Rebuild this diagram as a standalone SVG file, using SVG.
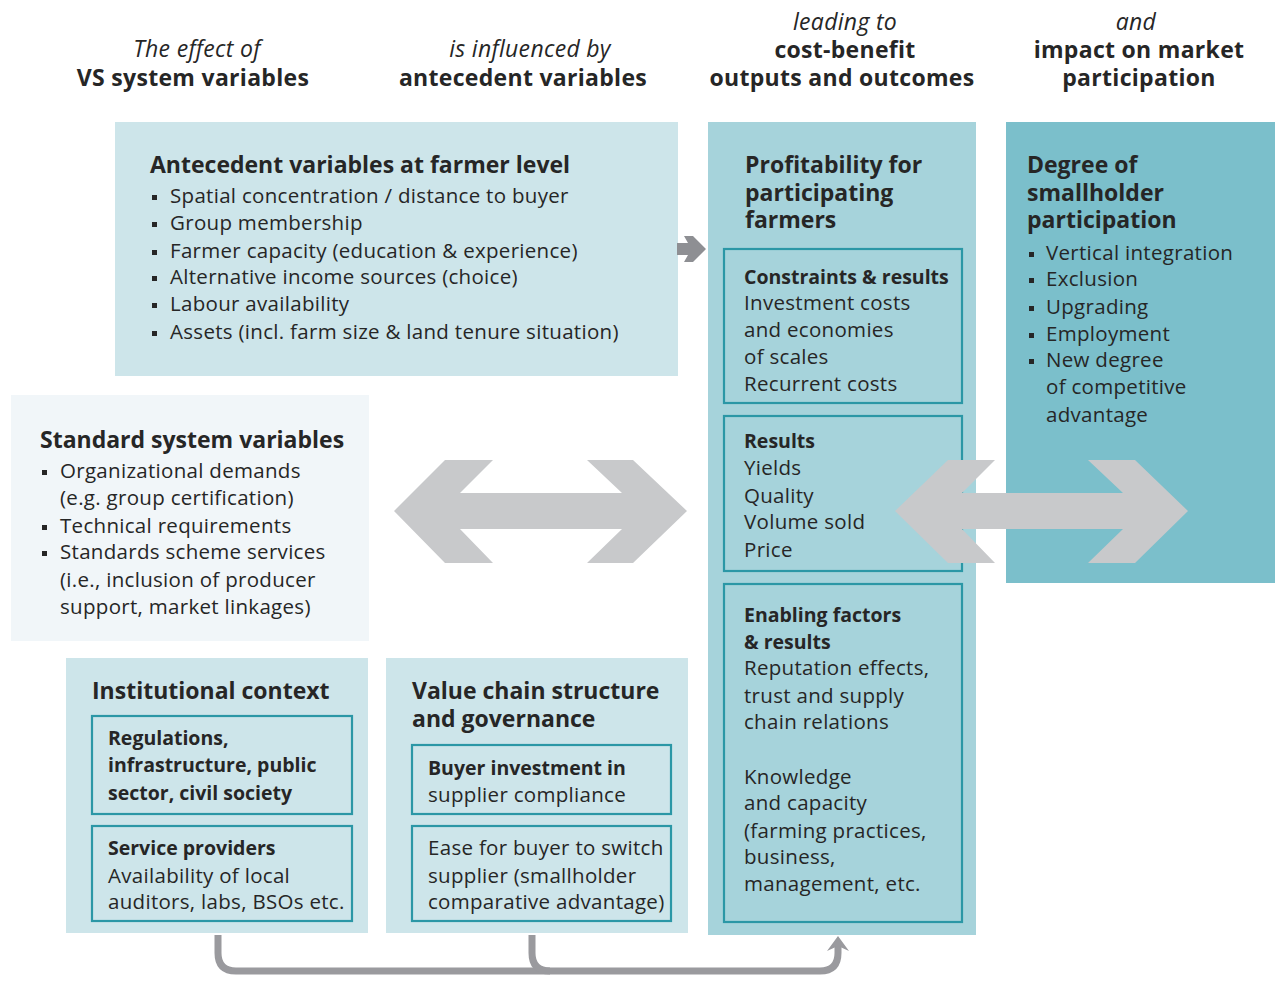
<svg xmlns="http://www.w3.org/2000/svg" width="1280" height="981" viewBox="0 0 1280 981">
<style>
text{font-family:"Open Sans","Noto Sans","Liberation Sans",sans-serif;fill:#262626;}
.h{font-size:23px;font-weight:bold;letter-spacing:0.3px;}
.hi{font-size:23px;font-style:italic;letter-spacing:0.3px;}
.t{font-size:23px;font-weight:bold;}
.b{font-size:19.5px;font-weight:bold;}
.r{font-size:20.5px;letter-spacing:0.3px;}
.c{text-anchor:middle;}
.inner{fill:none;stroke:#2b97a6;stroke-width:2.2;}
.bul{fill:#262626;}
.big{fill:#c8c9cb;}
</style>
<rect width="1280" height="981" fill="#ffffff"/>

<g id="headers">
<text class="hi c" x="197" y="57">The effect of</text>
<text class="h c" x="193" y="86">VS system variables</text>
<text class="hi c" x="530" y="57">is influenced by</text>
<text class="h c" x="523" y="86">antecedent variables</text>
<text class="hi c" x="845" y="30">leading to</text>
<text class="h c" x="845" y="58">cost-benefit</text>
<text class="h c" x="842" y="86">outputs and outcomes</text>
<text class="hi c" x="1136" y="30">and</text>
<text class="h c" x="1139" y="58">impact on market</text>
<text class="h c" x="1139" y="86">participation</text>
</g>

<g id="antecedent">
<rect x="115" y="122" width="563" height="254" fill="#cde5ea"/>
<text class="t" x="150" y="173">Antecedent variables at farmer level</text>
<rect class="bul" x="152" y="195" width="5" height="5"/>
<rect class="bul" x="152" y="222" width="5" height="5"/>
<rect class="bul" x="152" y="250" width="5" height="5"/>
<rect class="bul" x="152" y="276" width="5" height="5"/>
<rect class="bul" x="152" y="303" width="5" height="5"/>
<rect class="bul" x="152" y="331" width="5" height="5"/>
<text class="r" x="170" y="203">Spatial concentration / distance to buyer</text>
<text class="r" x="170" y="230">Group membership</text>
<text class="r" x="170" y="258">Farmer capacity (education &amp; experience)</text>
<text class="r" x="170" y="284">Alternative income sources (choice)</text>
<text class="r" x="170" y="311">Labour availability</text>
<text class="r" x="170" y="339">Assets (incl. farm size &amp; land tenure situation)</text>
</g>

<g id="profitability">
<rect x="708" y="122" width="268" height="813" fill="#a6d3db"/>
<text class="t" x="745" y="173">Profitability for</text>
<text class="t" x="745" y="201">participating</text>
<text class="t" x="745" y="228">farmers</text>
<rect class="inner" x="724" y="249" width="238" height="154"/>
<text class="b" x="744" y="284">Constraints &amp; results</text>
<text class="r" x="744" y="310">Investment costs</text>
<text class="r" x="744" y="337">and economies</text>
<text class="r" x="744" y="364">of scales</text>
<text class="r" x="744" y="391">Recurrent costs</text>
<rect class="inner" x="724" y="416" width="238" height="155"/>
<text class="b" x="744" y="448">Results</text>
<text class="r" x="744" y="475">Yields</text>
<text class="r" x="744" y="503">Quality</text>
<text class="r" x="744" y="529">Volume sold</text>
<text class="r" x="744" y="557">Price</text>
<rect class="inner" x="724" y="584" width="238" height="338"/>
<text class="b" x="744" y="622">Enabling factors</text>
<text class="b" x="744" y="649">&amp; results</text>
<text class="r" x="744" y="675">Reputation effects,</text>
<text class="r" x="744" y="703">trust and supply</text>
<text class="r" x="744" y="729">chain relations</text>
<text class="r" x="744" y="784">Knowledge</text>
<text class="r" x="744" y="810">and capacity</text>
<text class="r" x="744" y="838">(farming practices,</text>
<text class="r" x="744" y="864">business,</text>
<text class="r" x="744" y="891">management, etc.</text>
</g>

<g id="degree">
<rect x="1006" y="122" width="269" height="461" fill="#7bbfcb"/>
<text class="t" x="1027" y="173">Degree of</text>
<text class="t" x="1027" y="201">smallholder</text>
<text class="t" x="1027" y="228">participation</text>
<rect class="bul" x="1029" y="252" width="5" height="5"/>
<rect class="bul" x="1029" y="278" width="5" height="5"/>
<rect class="bul" x="1029" y="306" width="5" height="5"/>
<rect class="bul" x="1029" y="333" width="5" height="5"/>
<rect class="bul" x="1029" y="359" width="5" height="5"/>
<text class="r" x="1046" y="260">Vertical integration</text>
<text class="r" x="1046" y="286">Exclusion</text>
<text class="r" x="1046" y="314">Upgrading</text>
<text class="r" x="1046" y="341">Employment</text>
<text class="r" x="1046" y="367">New degree</text>
<text class="r" x="1046" y="394">of competitive</text>
<text class="r" x="1046" y="422">advantage</text>
</g>

<g id="standard">
<rect x="11" y="395" width="358" height="246" fill="#f1f6f9"/>
<text class="t" x="40" y="448">Standard system variables</text>
<rect class="bul" x="42" y="470" width="5" height="5"/>
<rect class="bul" x="42" y="525" width="5" height="5"/>
<rect class="bul" x="42" y="551" width="5" height="5"/>
<text class="r" x="60" y="478">Organizational demands</text>
<text class="r" x="60" y="505">(e.g. group certification)</text>
<text class="r" x="60" y="533">Technical requirements</text>
<text class="r" x="60" y="559">Standards scheme services</text>
<text class="r" x="60" y="587">(i.e., inclusion of producer</text>
<text class="r" x="60" y="614">support, market linkages)</text>
</g>

<g id="institutional">
<rect x="66" y="658" width="302" height="275" fill="#cde5ea"/>
<text class="t" x="92" y="699">Institutional context</text>
<rect class="inner" x="92" y="716" width="260" height="98"/>
<text class="b" x="108" y="745">Regulations,</text>
<text class="b" x="108" y="772">infrastructure, public</text>
<text class="b" x="108" y="800">sector, civil society</text>
<rect class="inner" x="92" y="826" width="260" height="95"/>
<text class="b" x="108" y="855">Service providers</text>
<text class="r" x="108" y="883">Availability of local</text>
<text class="r" x="108" y="909">auditors, labs, BSOs etc.</text>
</g>

<g id="valuechain">
<rect x="386" y="658" width="302" height="275" fill="#cde5ea"/>
<text class="t" x="412" y="699">Value chain structure</text>
<text class="t" x="412" y="727">and governance</text>
<rect class="inner" x="412" y="745" width="259" height="69"/>
<text class="b" x="428" y="775">Buyer investment in</text>
<text class="r" x="428" y="802">supplier compliance</text>
<rect class="inner" x="412" y="826" width="259" height="95"/>
<text class="r" x="428" y="855">Ease for buyer to switch</text>
<text class="r" x="428" y="883">supplier (smallholder</text>
<text class="r" x="428" y="909">comparative advantage)</text>
</g>

<g id="connectors">
<polygon fill="#8e8f93" points="677,243 688,243 684,236 693,236 706,249 693,262 684,262 688,255 677,255"/>
<polygon class="big" points="394,511 445,460 493,460 460,493 622,493 587,460 633,460 687,511 633,563 587,563 622,529 460,529 493,563 445,563"/>
<polygon class="big" points="895,511 948,460 995,460 962,493 1123,493 1088,460 1135,460 1188,511 1135,563 1088,563 1123,529 962,529 995,563 948,563"/>
<path d="M218,935 V953 Q218,971 236,971 H820 Q838,971 838,953 V946" fill="none" stroke="#9a9a9e" stroke-width="7"/>
<path d="M532,935 V953 Q532,971 550,971" fill="none" stroke="#9a9a9e" stroke-width="7"/>
<polygon fill="#9a9a9e" points="838,936 849,951 838,946 827,951"/>
</g>
</svg>
